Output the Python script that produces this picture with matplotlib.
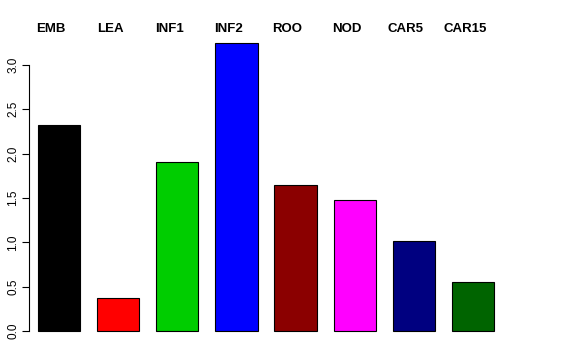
import numpy as np
import matplotlib.pyplot as plt

labels = ["EMB", "LEA", "INF1", "INF2", "ROO", "NOD", "CAR5", "CAR15"]
values = [2.32, 0.37, 1.90, 3.24, 1.64, 1.475, 1.01, 0.55]
colors = ["#000000", "#FF0000", "#00CD00", "#0000FF", "#8B0000", "#FF00FF", "#000080", "#006400"]

plt.rcParams['font.family'] = ['Liberation Sans', 'DejaVu Sans']

W, H = 576, 360
fig = plt.figure(figsize=(W / 100, H / 100), dpi=100)

# plot region in pixels (R-style barplot)
left, right, top, bottom = 29, 503, 32, 342.5
ax = fig.add_axes([left / W, 1 - bottom / H, (right - left) / W, (bottom - top) / H])

space = 0.4
x = space + 0.5 + (1 + space) * np.arange(len(values))
ax.bar(x, values, width=1.0, color=colors, edgecolor="black", linewidth=0.8)

x0, x1 = x[0] - 0.5, x[-1] + 0.5
pad = (x1 - x0) * 9 / (494 - 38)
ax.set_xlim(x0 - pad, x1 + pad)
ymax = max(values)
ax.set_ylim(-0.04 * ymax, 1.04 * ymax)

for s in ["top", "right", "bottom"]:
    ax.spines[s].set_visible(False)
ax.spines["left"].set_bounds(0, 3.0)
ax.spines["left"].set_linewidth(0.8)
ax.set_xticks([])
ax.set_yticks(np.arange(0, 3.01, 0.5))
ax.set_yticklabels([f"{t:.1f}" for t in np.arange(0, 3.01, 0.5)], rotation=90, va="center")
ax.tick_params(axis="y", length=5, width=0.8, labelsize=8.5, pad=2)

# labels above the plot
ppu = (right - left) / (ax.get_xlim()[1] - ax.get_xlim()[0])
for xi, lab in zip(x, labels):
    fig.text((left + (xi - ax.get_xlim()[0]) * ppu - 8) / W, 1 - 29 / H, lab,
             ha="center", va="center", fontsize=9.5, fontweight="bold")

fig.savefig("out.png", dpi=100)
